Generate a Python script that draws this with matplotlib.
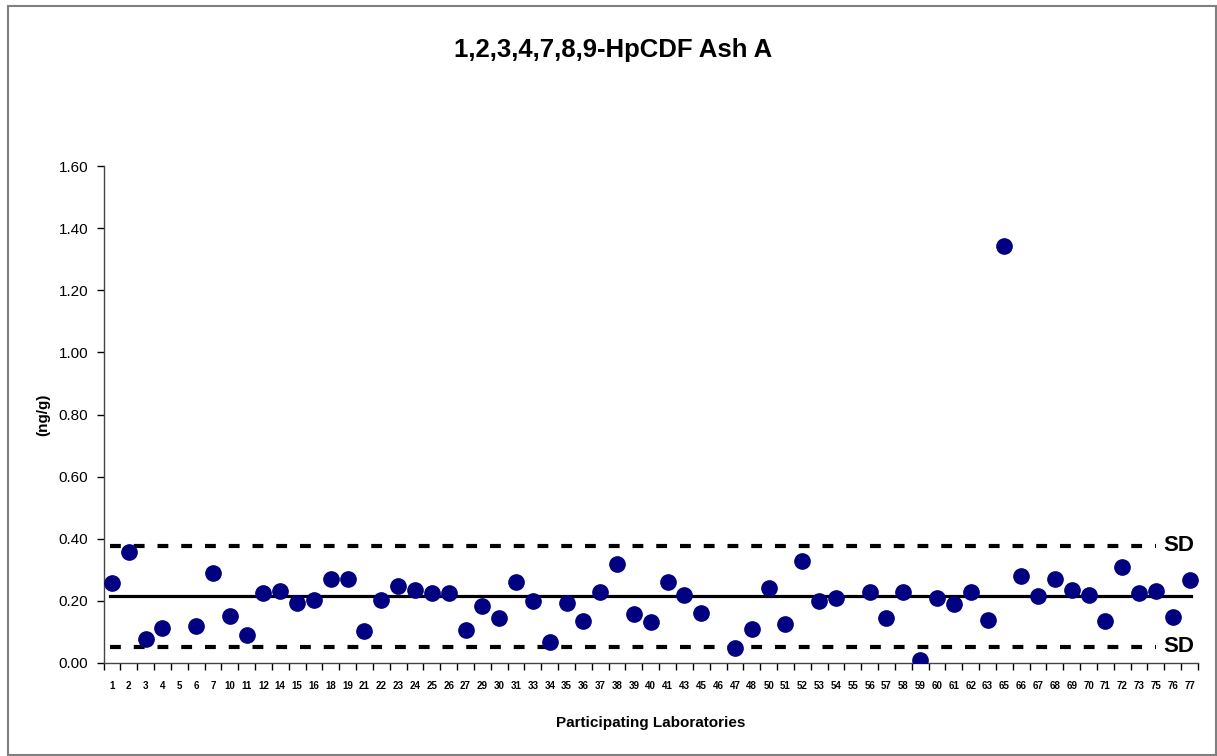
import numpy as np
import matplotlib
matplotlib.use("Agg")
import matplotlib.pyplot as plt
from matplotlib.patches import Rectangle

plt.rcParams['font.family'] = ['Liberation Sans', 'DejaVu Sans']

labs = [1, 2, 3, 4, 5, 6, 7, 10, 11, 12, 14, 15, 16, 18, 19, 21, 22, 23, 24, 25,
        26, 27, 29, 30, 31, 33, 34, 35, 36, 37, 38, 39, 40, 41, 43, 45, 46, 47, 48, 50,
        51, 52, 53, 54, 55, 56, 57, 58, 59, 60, 61, 62, 63, 65, 66, 67, 68, 69, 70, 71,
        72, 73, 75, 76, 77]

values = [0.258, 0.357, 0.077, 0.113, np.nan, 0.119, 0.290, 0.151, 0.090, 0.225,
          0.232, 0.193, 0.203, 0.270, 0.270, 0.103, 0.203, 0.248, 0.235, 0.225,
          0.225, 0.106, 0.184, 0.145, 0.261, 0.200, 0.068, 0.193, 0.135, 0.229,
          0.319, 0.158, 0.132, 0.261, 0.219, 0.161, np.nan, 0.048, 0.109, 0.241,
          0.126, 0.328, 0.200, 0.209, np.nan, 0.229, 0.145, 0.229, 0.010, 0.209,
          0.190, 0.229, 0.138, 1.343, 0.280, 0.216, 0.270, 0.235, 0.219, 0.135,
          0.309, 0.225, 0.232, 0.148, 0.267]

mean_value = 0.216
sd_upper = 0.377
sd_lower = 0.052

fig = plt.figure(figsize=(12.17, 7.56), dpi=100)
ax = fig.add_axes([103.5 / 1217, 1 - 663 / 756, (1198 - 103.5) / 1217, (663 - 166) / 756])

x = np.arange(len(labs))
ax.plot(x, values, linestyle='none', marker='o', markersize=11,
        markerfacecolor='#000080', markeredgecolor='#000080', zorder=3)

# mean line and +/- SD limits
ax.axhline(mean_value, xmin=0.006, xmax=0.994, color='black', linewidth=2.3, zorder=2)
for level in (sd_upper, sd_lower):
    ax.axhline(level, xmin=0.006, xmax=0.962, color='black', linewidth=3,
               linestyle=(0, (2.6, 3.1)), zorder=2)
    ax.annotate('SD', xy=(1.0, level), xycoords=('axes fraction', 'data'),
                xytext=(-35, 0), textcoords='offset pixels',
                ha='left', va='center', fontsize=16, fontweight='bold')

ax.set_xlim(-0.5, len(labs) - 0.5)
ax.set_ylim(0, 1.6)
yt = np.arange(0, 1.61, 0.2)
ax.set_yticks(yt)
ax.set_yticklabels([f"{v:.2f}" for v in yt], fontsize=11)

ax.set_xticks(x)
ax.set_xticklabels([str(l) for l in labs], fontsize=7, fontweight='bold')
ax.set_xticks(np.arange(-0.5, len(labs)), minor=True)
ax.tick_params(axis='x', which='major', length=0, pad=13)
ax.tick_params(axis='x', which='minor', length=5, direction='out', width=1)
ax.tick_params(axis='y', length=5, direction='out', width=1, pad=6)

for side in ('top', 'right'):
    ax.spines[side].set_visible(False)
for side in ('left', 'bottom'):
    ax.spines[side].set_color('#444444')
    ax.spines[side].set_linewidth(1)

ax.set_ylabel('(ng/g)', fontsize=11, fontweight='bold', labelpad=6)
ax.set_xlabel('Participating Laboratories', fontsize=11, fontweight='bold', labelpad=18)

fig.text(613 / 1217, 1 - 50 / 756, '1,2,3,4,7,8,9-HpCDF Ash A', ha='center', va='center',
         fontsize=18.5, fontweight='bold')

fig.patches.append(Rectangle((8 / 1217, 1 / 756), (1216 - 8) / 1217, (750 - 1) / 756,
                             transform=fig.transFigure, fill=False,
                             edgecolor='#7f7f7f', linewidth=1.5))

fig.savefig('out.png', dpi=100)
